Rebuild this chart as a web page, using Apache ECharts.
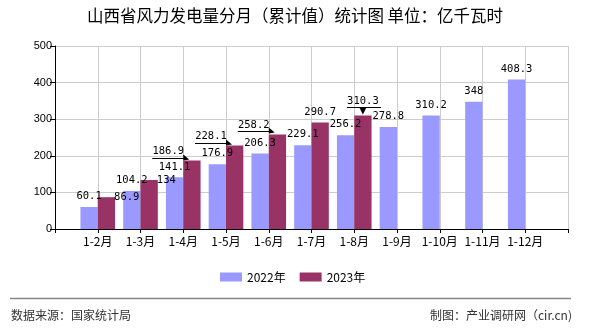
<!DOCTYPE html>
<html>
<head>
<meta charset="utf-8">
<script src="https://cdn.jsdelivr.net/npm/echarts@6/dist/echarts.min.js"></script>
<style>
html,body{margin:0;padding:0;background:#fff;}
#chart{width:590px;height:330px;}
</style>
</head>
<body>
<div id="chart"></div>
<script>
// ---- data ----
const titleText = '山西省风力发电量分月（累计值）统计图 单位：亿千瓦时';
const categories = ['1-2月','1-3月','1-4月','1-5月','1-6月','1-7月','1-8月','1-9月','1-10月','1-11月','1-12月'];
const seriesNames = ['2022年','2023年'];
const values2022 = [60.1, 104.2, 141.1, 176.9, 206.3, 229.1, 256.2, 278.8, 310.2, 348, 408.3];
const values2023 = [86.9, 134, 186.9, 228.1, 258.2, 290.7, 310.3];
const yMin = 0, yMax = 500, yStep = 100;
const sourceText = '数据来源：国家统计局';
const creditText = '制图：产业调研网（cir.cn)';

// ---- style ----
const colors = ['#9999FF', '#993366'];
const label2023Mode = ['side', 'side', 'lead', 'lead', 'lead', 'top', 'raise'];
const BAR_FRACTION = 0.405;
const numFont = '"DejaVu Sans Mono", monospace';
const cjkFont = '"Noto Sans CJK SC", "Noto Sans", sans-serif';

// axis with an empty slot on either side
const axisData = [''].concat(categories, ['']);
const pad = (arr) => {
  const out = ['-'].concat(arr);
  while (out.length < axisData.length) out.push('-');
  return out;
};

const arrowData = values2023
  .map((v, i) => [i + 1, v, i])
  .filter(d => label2023Mode[d[2]] === 'lead' || label2023Mode[d[2]] === 'raise');

function renderArrow(params, api) {
  const i = api.value(2);
  const mode = label2023Mode[i];
  const p = api.coord([api.value(0), api.value(1)]);
  const band = api.size([1, 0])[0];
  const bw = band * BAR_FRACTION;
  const x0 = p[0], top = p[1];
  if (mode === 'lead') {
    const ly = Math.round(top - 3) + 0.5;
    const x1 = x0 - 31, x2 = x0 + 6;
    return {
      type: 'group', children: [
        { type: 'line', shape: { x1: x1, y1: ly, x2: x2 - 3, y2: ly }, style: { stroke: '#000', lineWidth: 1 } },
        { type: 'polygon', shape: { points: [[x2 - 6, ly - 4], [x2, ly + 1], [x2 - 6, ly + 2]] }, style: { fill: '#000' } }
      ]
    };
  }
  const cx = x0 + bw / 2;
  const ly = Math.round(top - 8) + 0.5;
  return {
    type: 'group', children: [
      { type: 'line', shape: { x1: cx - 16, y1: ly, x2: cx + 18, y2: ly }, style: { stroke: '#000', lineWidth: 1 } },
      { type: 'polygon', shape: { points: [[cx - 3.5, ly], [cx + 3.5, ly], [cx, top - 1]] }, style: { fill: '#000' } }
    ]
  };
}

const chart = echarts.init(document.getElementById('chart'), null, { renderer: 'canvas' });
const option = {
  backgroundColor: '#fff',
  animation: false,
  title: {
    text: titleText,
    left: 'center',
    top: 2,
    textStyle: { fontFamily: cjkFont, fontSize: 16.5, fontWeight: 'normal', color: '#000' }
  },
  legend: {
    data: seriesNames,
    left: 215,
    top: 266,
    icon: 'rect',
    itemWidth: 22,
    itemHeight: 9,
    itemGap: 14,
    textStyle: { fontFamily: cjkFont, fontSize: 12, color: '#000' }
  },
  grid: { left: 55, right: 22, top: 46, bottom: 101, outerBoundsMode: 'none', containLabel: false },
  xAxis: {
    type: 'category',
    data: axisData,
    boundaryGap: false,
    axisLine: { lineStyle: { color: '#000', width: 1 } },
    axisTick: { show: true, length: 4, interval: 0, lineStyle: { color: '#000' } },
    axisLabel: { interval: 0, margin: 6, fontFamily: cjkFont, fontSize: 12, color: '#000' },
    splitLine: { show: true, interval: 0, lineStyle: { color: '#cccccc', width: 1 } }
  },
  yAxis: {
    type: 'value',
    min: yMin, max: yMax, interval: yStep,
    axisLine: { show: true, lineStyle: { color: '#000', width: 1 } },
    axisTick: { show: true, length: 5, lineStyle: { color: '#000' } },
    axisLabel: { margin: 3, fontFamily: '"Liberation Sans", Arial, sans-serif', fontSize: 11, color: '#000' },
    splitLine: { show: true, lineStyle: { color: '#cccccc', width: 1 } }
  },
  series: [
    {
      name: seriesNames[0],
      type: 'bar',
      data: pad(values2022),
      barWidth: (BAR_FRACTION * 100) + '%',
      barGap: '0%',
      itemStyle: { color: colors[0] },
      label: { show: true, position: 'top', distance: 5, fontFamily: numFont, fontSize: 10.5, color: '#000' }
    },
    {
      name: seriesNames[1],
      type: 'bar',
      data: pad(values2023),
      barWidth: (BAR_FRACTION * 100) + '%',
      barGap: '0%',
      itemStyle: { color: colors[1] },
      label: { show: true, position: 'top', distance: 5, fontFamily: numFont, fontSize: 10.5, color: '#000' },
      labelLayout: function (p) {
        const mode = label2023Mode[p.dataIndex - 1];
        const r = p.rect;
        if (mode === 'side') return { x: r.x + r.width - 1, y: r.y, align: 'left', verticalAlign: 'middle' };
        if (mode === 'lead') return { x: r.x - 15, y: r.y - 4, align: 'center', verticalAlign: 'bottom' };
        if (mode === 'raise') return { x: r.x + r.width / 2, y: r.y - 9, align: 'center', verticalAlign: 'bottom' };
        return {};
      }
    },
    {
      name: 'arrows',
      type: 'custom',
      silent: true,
      z: 5,
      data: arrowData,
      encode: { x: 0, y: 1 },
      renderItem: renderArrow
    }
  ],
  graphic: [
    { type: 'line', shape: { x1: 10, y1: 298.5, x2: 571, y2: 298.5 }, style: { stroke: '#888', lineWidth: 1.5 } },
    { type: 'text', left: 11, top: 309, style: { text: sourceText, font: '12px ' + cjkFont, fill: '#333' } },
    { type: 'text', right: 18, top: 309, style: { text: creditText, font: '12px ' + cjkFont, fill: '#333' } }
  ]
};
chart.setOption(option);
</script>
</body>
</html>
